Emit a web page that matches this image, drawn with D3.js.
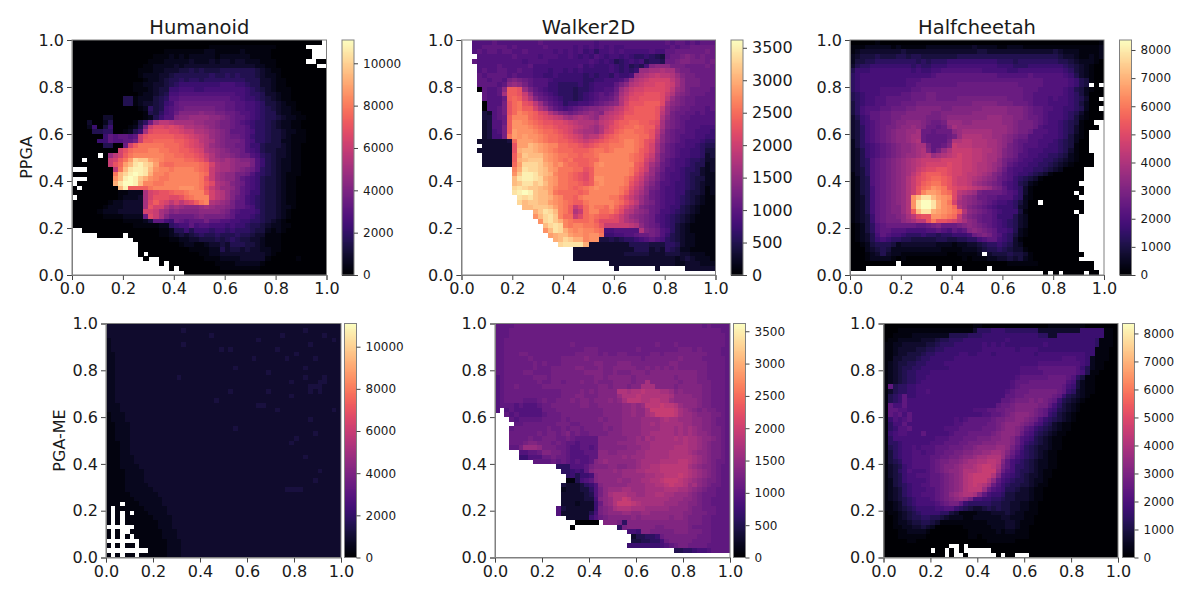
<!DOCTYPE html>
<html>
<head>
<meta charset="utf-8">
<script src="https://cdn.jsdelivr.net/npm/d3@7"></script>
<style>
  html, body { margin: 0; background: #fff; }
  text { font-family: "DejaVu Sans", sans-serif; fill: #1a1a1a; }
</style>
</head>
<body>
<svg id="chart" width="1200" height="600"></svg>
<script>
// Cells, top row first, 50 x 50.
// One base-36 character per cell: 0..z is 0..35/35 of the colour bar, "." is an empty cell.
const humanoidPpga = [
"0000000000 0000000000 0000000000 0000000000 000000000.",
"0000000000 0000000000 0000000111 1111111111 000000....",
"0000000000 0000000011 1111112211 1112111110 0000000...",
"0000000000 0000001112 1212222212 2222211110 0000000...",
"0000000000 0000011122 2223222323 3233222111 000000..00",
"0000000000 0000112222 3233333333 3333332211 00000000..",
"0000000000 0001112233 3445454445 5555554321 1000000000",
"0000000000 0001222334 5555555655 6565554322 1000000000",
"0000000000 0000122345 5656656666 6666555332 1100000000",
"0000000000 0011223345 6777777778 8877655332 1100000000",
"0000000000 0011123447 7888778888 8888765432 1110000000",
"0000000000 0001223458 8999999999 9988766533 2110000000",
"0000000000 5512224569 9aaaaaaaaa a998776543 2110000000",
"0000000000 5512334578 abbbbbbbbb aa99887644 3211000000",
"0000000000 0001264589 abccccccbb aa99887654 3221000000",
"0000000000 0000154689 bddddeddcc bba9987655 3221100000",
"0000003300 0000125799 deeffffeed cbaa987655 4322110000",
"0003002500 00146bgiih ggggffeedc cba9876654 3221100000",
"0002704700 0125cjllkl kjhhggfedc cbaa976654 3221100000",
"0000556600 1257glmmml lkjjhhgfed caaa986654 4322110000",
"0000007a9a a9ajmnnnnn mmlkjihfed cbba976654 4321110000",
"0000077a99 aacjnnoooo nnmlkihged cccb986654 4221110000",
"0000005500 bknpppppoo onmlkjhfed ccbb977544 4321100000",
"000000000k mopppqqppo onnmlkhgfe dccb987544 3321100000",
"00000.0fik npqqqqqqpp oonnmljhfe edcbb98654 3321100000",
"00.0000jkn pswvvsrqpp ppoonmkhgf gfeddc9754 3221100000",
"0000000jmo suxywvspoo ppppponkhg gfeeec9754 3221100000",
"...00000ip uxyyxurqqp qqqqponjhg gfedcb9654 3221100000",
"00000000pu wyzyxtqqpq qqqqqpojgf eeccb97654 3211100000",
"...00000ru yzyvtrqppq qqqqqpmjgf eeca987544 3211000000",
".0000000tx zzyuqqppqq qqqqqpnlhg fdcb987544 3211000000",
"0.0000000u ynnnnpqqqq qrrrqpmjhf feca987544 3211000000",
"0000000001 1222gklmmn oopqqqnkih fdca977544 3211000000",
".000000001 2223gkmmml lmopqqqkih fdba876544 3211000000",
"0000000122 3333glnlki kiklnpqhgf ecaa876544 3211000000",
"0000001222 3333gmkkhf gfeeefgfee dcaa986544 3221000000",
"0000012223 3333kkjgfd eddddeeeed ca98887544 3210000000",
"0000001111 2222bljgdb bbbbcdcccc ba88876544 3210000000",
"0000000000 111124aa87 ba9aaacaa9 9887766543 2100000000",
"0000000000 0011111226 788a899888 7877655432 2110000000",
"..00000000 0000000112 5575777677 6766654421 2100000000",
".....00000 .000000112 3434565565 5565543311 1000000000",
".......... ..00000001 1223344454 5654433211 1000000000",
".......... ...0000000 0122112334 3555443211 1000000000",
".......... ...0000000 0001111225 3443433221 1000000000",
".......... ...0.00000 0000011223 3333333321 0000000000",
".......... ....0..000 0000001112 2223333310 0000100000",
".......... .......0.0 0000000011 1122222100 0000000000",
".......... .........0 .000000001 1111111000 0000000000",
".......... .......... ..00000000 0000000000 0000000000"
];

const walkerPpga = [
"..9999a999 99999a9999 9999998999 9999999999 a9aa9a9aaa",
"..99aaaaa9 a99999a999 9989898989 8899999999 9a9aabbbbb",
"..9a9aa9aa 99a9999989 8989786889 8988888988 aabbbbbbcb",
"...9999999 a999989998 8987879878 8787667654 abbcdcbcbb",
"..a9999999 9989999888 8888898787 5678785665 bbcddcccbc",
"...9999a99 999a888888 8889787778 7675658dee ecccbbbbcb",
"...9a99aa9 9a99888788 7878777778 76767ffggh ggdccbbbbb",
"...a9aaaa9 a999887787 7777676776 8778fghiji ihfdccbbbb",
"...aa9aa9c dcba999877 7777667788 89bfhijkkk kigecccbbb",
"...aaaa9ae feca999776 6667678888 acehijkkll kjgecccbbb",
"...0a99aen nmfca98776 6656678899 bfhjkkllll kifecbbbba",
"....a99agn nmjfba9876 6656789a9a cgikllmmml jhedcbbbaa",
"....a999bn onkhdba987 6656789aab dhjllmmmml ifdcbbaaaa",
"....0999cm opmlifca98 677889abcd ehkmmmnnnl gedcbbaaaa",
"....099acm opnnkhfca9 89abcddefg ijlmnnnnmj fdcbbaaa9a",
"....439acm oqponlkhfd cbcdefedhi jkmmnnnnmi fcbbaa9a99",
"....449abn qqqonmlkji gfghgfehij klnnnnnnmh ecbaa99999",
"....3499bn rrqponmmll kjihhhgijk mnnoonnmlg dcba999999",
"....3499cn rrrqponnml lkjihgfhjl mnooponnkg dcba999888",
"....3489cn srrrqpoonm lkihggfhkl noppoonmjf cbaa998887",
"....3488cp srsrrqpoon mlkjhiikmn oppppoomie cba9998877",
"...3333334 osssrqpoon nmlkjklmno opqqpomlhe cba9888766",
"....333333 mssutsrqqo onnmlmnoop ppqqpomkgd ba99887655",
"...3333333 mtuutsrqpo oonnnoppop qqqqpnmkgd ba98877644",
"....333333 nsvuuusrqp poonoopqqq qqqponljfc ba98877634",
"....333333 ntuvvvsrqp opnnnooqqq qqqponkifc a988766533",
"....333333 oswwwvtsqr poonnoqrqq qqqqnmjgeb a988765523",
".......... qtxwwvusrp ppoomnqqqq qqqpnljfdb 9987665323",
".......... rvyyxvutqp ponmlnqqqq qqqpmkhfca 9887655322",
".......... uxyyxwtsrp ponmlnrrqq qqpnljgeca 9887654422",
".......... uvxxvwusrp poonmnqrqq qqpmkifdb9 9877654322",
".......... wxwvvutsqp ponopqrqqq qpoljhecb9 8877654312",
".......... xyzyvuuspo ooonoqqqqq qpnkigeba9 8877544312",
".......... .xwxvuutrq oonpqqqqqp pnljhfdba9 8876543211",
".......... .wuvvuusrq ponnpqqqqq pomkifdca9 8876543211",
".......... ..uuvvvusq pnjloqppoq omkigdcba9 8775432111",
".......... ....tvxwuq pnhjoqqoop nlihfedba8 8765432111",
".......... ....ruwxvq oojloponnm ljhfedcb98 7654321111",
".......... .....rwxvt qpooopnlll ljhgfdcb98 7654321111",
".......... ......uwxw qpqqppomjj jjjihecba8 7643211111",
".......... ......ruxw trqrqqpo88 99999hdcb9 8643211111",
".......... .......stu usrrqrrp77 8899abbcb9 7543221111",
".......... ........tu wvttqrr445 4566789a98 6543221111",
".......... .........w xxxxt33333 3335555444 6653221111",
".......... .......... ..33333333 3333555343 6542211111",
".......... .......... ..33333333 3344444333 4443322211",
".......... .......... ..33333333 3333333333 3323432221",
".......... .......... .........3 3333333333 3322333222",
".......... .......... .......... 3.......3. ....333333",
".......... .......... .......... .......... .........."
];

const cheetahPpga = [
"0000010000 0000000000 0000000000 0000000000 0000000001",
"1112222212 1111122222 2222322221 1222111111 1111111112",
"1233333333 4333333333 3333344333 3333333333 4322211112",
"2344454445 5455444444 4555555555 5555555555 5433211212",
"2445566666 6665656667 7777777776 6656666666 6554322210",
"3566777777 7767667778 8888888887 7766677777 7765432100",
"5777888888 8878778899 9999998888 8778888888 8876432100",
"6788888888 8888889aaa aaaaaaaaa9 99999a9999 9987532100",
"6788888888 8999aaaaaa aaaaaaaaaa aaaaaaaa99 9998754100",
"6788888888 899aaaaaaa abbbbbbbbb bbbaaaaa99 9998754.0.",
"6788889999 99aabbbbbb bbbbbbbbbb bbbbaaa999 9987542100",
"5678889999 aabbbccbbb bbbbbbbbbb bbbbaa9999 9987642000",
"5678899aaa aabbbccbbb bccccccccc cbbbaa9998 988765300.",
"4678899aaa bbbccccccc ccccdddddc ccbbba9998 8887642000",
"468999aabb bccdddddcc ddddddeeee edddcbaa99 887765200.",
"4689aabbcc cdddddccdd ddddeeeeee edddcbaa98 8876531000",
"3578aabbcc dddddcccde eeeeeeefff eeddcbba98 8876421000",
"34789abbcd deeedcbbcf ffeeffffff eedcccba98 87654100..",
"34689abccd eefedbbabe gfffffffff fedcccb988 876531000.",
"34689abcde effgbbabbb efggggggff fedccb9998 8765310...",
"34689abcde efggbaaaab cfhhhhggff edcbb99988 8764210...",
"24689abcde efghbaaaac hhiihhhggf edbaa99888 7654200...",
"246789abcd eefggcaabd jiiihhhggf ecba999887 7654100...",
"235789abcd eefghdacfh jjjjiihhgf dcba988877 7653100...",
"235789abcd effghifghi jkjjiihggf dcb9988776 65421000..",
"23569abcde fghijjjjkk kkjjiihgge cba9887766 54321000..",
"23569abcde fghijkkkkl kkjjihhgfe ca98877665 43210000..",
"23469abcde fghjkllmml kkjjihhgfd b988776654 320000....",
"13469abcde fgikmnnnml kkjiihgfdc a987765431 000000....",
"12459abcde fhjlmnoonm kjjihgfedb a976543100 000000....",
"12459abcde fhjlnoppnm kjjigfedcb 9875421000 00000.....",
"12458abcde fhjmoprqpm lkkjihgfdc a876310000 000000....",
"12458abcde fhjmqssrpo lihgfcbbbb a986310000 0000.0....",
"12358abcde fhruxxusrq lhfedbbaa9 9976210000 00000.....",
"12358abcde fhrxzzxtrp kgfedcba98 8764200.00 000000....",
"12358abcdd fhrxzzxtrq ohfdcba987 7763200000 000000....",
"12358abcdd fhnuxxtsrq pnhedcba98 7774100000 0000.0....",
"12347abccd egilmmrrqp ojfdcbaa97 7753200000 00000.....",
"12347abccc efgiimpmml kigedbaa98 7653200000 00000.....",
"012469abbb bbbaabcdbb bcdedcba98 7653200000 00000.....",
"012469aa99 9888899a98 a9adedcba8 8752100000 00000.....",
"012358a988 7666766566 7778bcdca9 7642100000 00000.....",
"0123578766 5544444554 4556689aa8 7631000000 00000.....",
"0012455542 3333333222 1223345667 6532000000 00000.....",
"0002345422 2222222211 1122234556 5433100000 00000.....",
"0001235322 1111111110 011112.344 4544310000 000000....",
"0001222210 1000000000 0010111223 3434210000 00000.....",
"000000000. 0000000000 0000000000 0111111000 00000000..",
"000....... .......0.. 0.00000.00 0000000000 00000000..",
".......... .......... .......... ........0. 0.0000.00."
];

const humanoidMe = [
"3333333333 3333333333 3333333333 3333333333 3333333333",
"3333333333 3333334333 3333333333 3333333333 3343333333",
"3333333333 3333333333 3343333333 3333333433 3333334333",
"2333333333 3333333333 3333333333 3343333333 3333333343",
"2333333333 3333334333 3333333333 3333333333 3334333333",
"2333333333 3333333333 3333434333 3333334333 3333333333",
"2233333333 3333333333 3333333333 3333333333 4333333333",
"2233333333 3333333333 3333333333 3433333343 3333433333",
"2233333333 3333333333 3333333333 3333333333 3333333333",
"2233333333 3333333333 3333333433 3333333333 3343333333",
"2233333333 3333333333 3333333333 3333433333 3333333333",
"2233333333 3333343333 3333333333 3333333333 3343334333",
"2233333333 3333333333 3333333333 3333333334 3333344333",
"2233333333 3333333333 3333333333 3333333333 3334443333",
"2233333333 3333333333 3333334333 3333433333 3334343333",
"2233333333 3333333333 3333333333 3333333334 3333333333",
"2233333333 3333333333 3334333333 3333333333 3333333333",
"2223333333 3333333333 3333333333 3344333333 3333333333",
"2223333333 3333333333 3333333333 3333334333 3333333343",
"1222333333 3333333333 3333333333 3333333333 3333333333",
"1222333333 3333333333 3333333333 3333333333 3334333333",
"1122233333 3333333333 3333333333 3333333333 3333333333",
"1122233333 3333333333 3333333433 3333333333 3333333333",
"1122233333 3333333333 3333333333 3333333333 3333433333",
"1122233333 3333333333 3333333333 3333333333 4333333333",
"1112233333 3333333333 3333333333 3333333334 3333333333",
"1112233333 3333333333 3333333333 3333333333 3333333333",
"1112233333 3333333333 3333333333 3333333333 3333333333",
"1112223333 3333333333 3333333333 3333333333 3343333333",
"1112223333 3333333333 3333333333 3333333333 3333333333",
"1112222333 3333333333 3333333333 3333333333 3333333333",
"1111222233 3333333333 3333333333 3333333333 3333343333",
"1111222233 3333333333 3333333333 3333333333 3333333333",
"1111222233 3333333333 3333333333 3333333333 3333433333",
"1111222223 3333333333 3333333333 3333333333 3333333333",
"1111222222 3333333333 3333333333 3333333344 4433333333",
"1111122222 2333333333 3333333333 3333333333 3333333333",
"1111112222 2233333333 3333333333 3333333333 3333333333",
"111.111222 2233333333 3333333333 3333333333 3333333333",
"1.11111122 2223333333 3333333333 3333333333 3333333333",
"1.1.1.1112 2223333333 3333333333 3333333333 3333333333",
"1.1.111111 2222333333 3333333333 3333333333 3333333333",
"1.1.111111 1222333333 3333333333 3333333333 3333333333",
"......1111 1222333333 3333333333 3333333333 3333333333",
"1.1..11111 1122233333 3333333333 3333333333 3333333333",
"1.1.1.1111 1122233333 3333333333 3333333333 3333333333",
".......111 1112223333 3333333333 3333333333 3333333333",
"1.1.11.111 1112223333 3333333333 3333333333 3333333333",
".........1 1112223333 3333333333 3333333333 3333333333",
"1.1.11.111 1112223333 3333333333 3333333333 3333333333"
];

const walkerMe = [
"aaaabbbbbb bbbbbbbbbb bbbbbbbbbb bbbbbbbbbb bbbbabaaaa",
"aaabbbbbbb bbbbbbbbbb bbbbbbbbbb bbbbbbbbbb bbbbbbbbaa",
"aaabbbbbbb bbbbbbbbbb bbbbbbbbbb bbbbbbbbbb bbbbbbbbba",
"aabbbbbbbb bbbbbbbbbb bbbbbbbbbb bbbbbbbbbb bbbbbbbbba",
"aabbbbbbbb bbbbbbcbbb bbbbbbbbbb bbbbcbbbcb bbbbbbbbba",
"aabbbbbbbb bbbbbbbbbc ccbbbbbbbb cbbbbbbbbc ccbcbbbbaa",
"aabbbccbbb bbbbbbbccc ccbcbbccbb bbbccbcccc cccccbbbaa",
"aabbbbbcbb bbbbcccccd cccccccccc cbcccccccd ccccbbbbba",
"aabbbbbbcb cbbbcccccc cddcccdddc cccccccddc cccccbbbba",
"aabbbbbbcb bbcccccddc ccdccddddd ccdcdcdcdc cccccbbbba",
"aabbbbccbb bbcccccccd dddccdcccd ddcddddddd dddccbbbba",
"9abbbbbbcc cbcccccccc cddcdddddc ddddddddcd dddccbbbba",
"9abbbbbbbc bbccbcccdc cdcccddddc ddgddddddc dddcccbbba",
"9abbcbbbbb cccccccccc ccddcdddcd dgggddddcd ddddccbbba",
"9abbbbbbbb bbbbccccdc dcddddhhgh hihhhggfde ddddccbbba",
"9abbbbbbbb bbbbcccddc ccddddfhhh ihhhhhhgee eeddccbbba",
"9abbbbaaab cbbcccdcdd cdddedegii ihhiihhfee eeedccbbba",
"9aaa9a999a bbccccccdd ccdddddeef efiiijiihf eeedccbbba",
"9.9a999999 bbbccccccc cccddddeef eegjjjjjig fedcdccbba",
"..a9a99999 abbbcccccc cccddddeef eeghjjjjig ffedddccba",
"...a9aaaaa bbbbcbcccc ccdcdddeee effffghggf ffeeddcbba",
"....aabbbb bbbcccbbcc cccddddeee effgfggggg ffeeddcbba",
"...abbbbbb bcbbcbccbc cccdcddeee effffgggfg fgfeddccba",
"...bbbbbbc bccbcdbcbb ccccdddeee effgggggfg fgfeedccba",
"...bbbbcbb cccbbcbaaa aaddddddee fegfgggghg hggfeedcba",
"...bbbcddc ccbcbaa9aa aaddddeeee fffggggggg hggfedccba",
"...aacfffe cccbba99aa 9addddddee effggggghh hggfedccba",
".....99aab ddccba999a aaeeddeeee ffggggghhh hgfeedccba",
".....77999 bbcbba9999 aaeeeeefef ffggggghhh hhgfedccba",
"........aa aababa9a99 adefeeeeee fgggghhhhi ihgfedcbba",
".......... ...666999a cdddeeddee fgghhiiiii igfeddcbaa",
".......... ....66787a deeeefefff gghhhiiiii ihgfedcbaa",
".......... .....67577 8deeeeefff ffgghhiiij ihgfedcbaa",
".......... .....11589 adeeeefeef fgghhijjji hgfedccbaa",
".......... ....433346 79deeeeeff ffgghhijii hfgedcbbaa",
".......... ....233344 69cefffggf ffgggghhhg gfedcbbaaa",
".......... ....333334 59ceghhhgg ffgghhggff fedcbbbaaa",
".......... ....333334 48defhhjig gggggggfff eedcbbaaaa",
".......... ....333233 37befhjjji hgggggfffe eddcbbaaaa",
".......... ...9433333 37cdeghhhg ggfffffeee edccbbbaaa",
".......... ...9333333 58cdeeeffe effeeeeeee ddcccbbaaa",
".......... .....33333 79bcddddde deeeeeedee dcccbbaaaa",
".......... .......000 00.dddc6dd dddddddddd dcccbbaaaa",
".......... ......0... ......6cdd ddddccdddd dcbbbbaaaa",
".......... .......... ........88 7ddcccccdd dcccbbaaaa",
".......... .......... .........3 55667bcccc cccbbbaaaa",
".......... .......... .........4 455668bccc ccbbbbaaaa",
".......... .......... ........77 7777789abc cbbbbaaaaa",
".......... .......... .......... ........55 667889aaaa",
".......... .......... .......... .......... .........."
];

const cheetahMe = [
"0000000000 0000000001 1000000000 0000011111 1110000000",
"0001111111 1111111113 6667776666 6663333333 3377777110",
"0011112222 2222555566 6777777777 7776633777 7777777110",
"0112222233 3455666777 7777778777 7777777777 7777761110",
"1122333334 4566677777 7878787777 7777877777 7777761110",
"1123333445 5667777777 7888888878 8887777777 7777711100",
"1123344456 6777778877 8887888888 8878888888 8887711100",
"1133444566 7777788888 8888888888 8888888899 9887211100",
"1234455667 7778888888 8888888888 8889999999 9987211000",
"1234556677 7777888888 8888888889 999aaaaaaa a975211000",
"1234566777 8888888888 8888888889 9999aaaaaa a985110000",
"1234566778 8888888888 888888889a aaaaabbbba 9641100000",
"1234566788 8888888888 88888889aa abbbbbbbb9 8421100000",
"1a56677888 8888888888 88888889ab bbbbbbbba8 7421100000",
"1356677889 8888888888 8888889abb bccccccba7 6321100000",
"1567a77888 8888888888 888888aabb ccccccba75 4321000000",
"1567a88888 8888888888 88888aabcc cdcdcba754 3210000000",
"1a88a88888 8888888888 8888abbcdd dddcca8643 2100000000",
"1aa9988888 8888888889 99aabbccdd ddcba87543 2100000000",
"1a9a8a8888 8888888888 899aabcdee edcba76432 1000000000",
"17989a8888 88888989aa aaabccddee dcb9765432 1000000000",
"1688a88888 8888899aaa aabbcdeeed cb98653211 0000000000",
"16799a8888 888999aaaa abbbcdeedc a976543211 0000000000",
"17899888a8 88889aaabb bbbcdeeedb 9865432110 0000000000",
"1688888888 8999aaabbb cccddeedb9 8754321100 0000000000",
"1667888888 999aaabbcc cdddeeedb9 7654321100 0000000000",
"1567889899 9aaabbbccd eeeeffeca8 6543321100 0000000000",
"1467889989 9aabbccdde effggfdb97 6543211000 0000000000",
"1467889999 aabbccdeef gghhhfca87 6543211000 0000000000",
"1456889999 abccddefgg hhiihda876 5432211000 0000000000",
"1345789999 abcddefggh ijjigca866 5432211000 0000000000",
"1346798889 abcdeefhhh ijjjfb9865 5432110000 0000000000",
"1345788999 aabcdefhij jjjhd98765 4332110000 0000000000",
"1245788889 aabcdefhij jjhea87655 4322100000 0000000000",
"1245678899 aabcdefhij ihfb976554 4321100000 0000000000",
"1234678889 9abcdefhii ifb9875543 3211000000 0000000000",
"1234678899 9abcefghhg da87764433 3211000000 0000000000",
"1234567888 9abcdefec8 8776654433 3211000000 0000000000",
"1123567888 89abcca766 6665544332 2110000000 0000000000",
"1123456777 7889976543 3454544332 2110000000 0000000000",
"0112345677 7766431111 2223334322 1110000000 0000000000",
"0012345566 5543222112 2222233222 1100000000 0000000000",
"0012234455 4311111111 1122223321 1100000000 0000000000",
"0011223343 2000000111 1112223321 1000000000 0000000000",
"0001122221 0000000011 1111212211 1000000000 0000000000",
"0001111110 0000000011 0111111111 1000000000 0000000000",
"0000011000 0000000000 0011111100 0000000000 0000000000",
"0000000000 0000..0.00 0000000000 0000000000 0000000000",
"0000000000 .00.0.0... ...0000000 0000000000 0000000000",
"0000000000 000.0..0.. ....0.00.. .000000000 0000000000"
];

const envTitles = ["Humanoid", "Walker2D", "Halfcheetah"];
const rowLabels = ["PPGA", "PGA-ME"];
const envMax = [11100, 3620, 8355];
const axisTicks = [0, 0.2, 0.4, 0.6, 0.8, 1];
const barTicks = [
  [0, 2000, 4000, 6000, 8000, 10000],
  [0, 500, 1000, 1500, 2000, 2500, 3000, 3500],
  [0, 1000, 2000, 3000, 4000, 5000, 6000, 7000, 8000]
];

const GRID = 50;
const SPINE = "#808080";

const panels = [
  { rows: humanoidPpga, env: 0, title: envTitles[0], ylabel: rowLabels[0], x0: 72, x1: 326.5, y0: 40, y1: 275, bar: 342, barSize: 12 },
  { rows: walkerPpga, env: 1, title: envTitles[1], x0: 461.5, x1: 715.5, y0: 40, y1: 275, bar: 731, barSize: 16 },
  { rows: cheetahPpga, env: 2, title: envTitles[2], x0: 850, x1: 1104, y0: 40, y1: 275, bar: 1119.5, barSize: 12 },
  { rows: humanoidMe, env: 0, ylabel: rowLabels[1], x0: 106, x1: 341, y0: 323.5, y1: 557.5, bar: 344.5, barSize: 12 },
  { rows: walkerMe, env: 1, x0: 495, x1: 730, y0: 323.5, y1: 557.5, bar: 733.5, barSize: 12 },
  { rows: cheetahMe, env: 2, x0: 883.5, x1: 1118, y0: 323.5, y1: 557.5, bar: 1122.5, barSize: 12 }
];

const svg = d3.select("#chart");

function decode(rows, vmax) {
  return rows.map(r => Array.from(r.replace(/ /g, "")).map(c => c === "." ? null : parseInt(c, 36) / 35 * vmax));
}

function drawPanel(p) {
  const vmax = envMax[p.env];
  const values = decode(p.rows, vmax);
  const x = d3.scaleLinear().domain([0, 1]).range([p.x0, p.x1]);
  const y = d3.scaleLinear().domain([0, 1]).range([p.y1, p.y0]);
  const color = d3.scaleSequential(d3.interpolateMagma).domain([0, vmax]);

  const g = svg.append("g");

  // heatmap cells
  values.forEach((row, r) => {
    g.append("g").attr("shape-rendering", "crispEdges").selectAll("rect")
      .data(row.map((v, c) => ({ v, c })).filter(d => d.v !== null))
      .join("rect")
      .attr("x", d => x(d.c / GRID))
      .attr("y", y(1 - r / GRID))
      .attr("width", d => x((d.c + 1) / GRID) - x(d.c / GRID) + 0.3)
      .attr("height", y(1 - (r + 1) / GRID) - y(1 - r / GRID) + 0.3)
      .attr("fill", d => color(d.v));
  });

  const xAxis = d3.axisBottom(x).tickValues(axisTicks).tickFormat(d3.format(".1f")).tickSize(5).tickPadding(3);
  const yAxis = d3.axisLeft(y).tickValues(axisTicks).tickFormat(d3.format(".1f")).tickSize(5).tickPadding(3);

  const gx = g.append("g").attr("transform", `translate(0,${p.y1})`).call(xAxis);
  const gy = g.append("g").attr("transform", `translate(${p.x0},0)`).call(yAxis);
  [gx, gy].forEach(a => {
    a.selectAll("text").style("font-size", "16px").style("font-family", "DejaVu Sans");
    a.selectAll("line").attr("stroke", "#444");
    a.select(".domain").attr("stroke", SPINE);
  });

  g.append("rect")
    .attr("x", p.x0).attr("y", p.y0)
    .attr("width", p.x1 - p.x0).attr("height", p.y1 - p.y0)
    .attr("fill", "none").attr("stroke", SPINE);

  if (p.title) {
    g.append("text")
      .attr("x", (p.x0 + p.x1) / 2).attr("y", p.y0 - 6)
      .attr("text-anchor", "middle").style("font-size", "19.5px")
      .text(p.title);
  }
  if (p.ylabel) {
    g.append("text")
      .attr("transform", `translate(${p.ylabel === "PPGA" ? 32 : 65},${(p.y0 + p.y1) / 2}) rotate(-90)`)
      .attr("text-anchor", "middle").style("font-size", "16px")
      .text(p.ylabel);
  }

  // colour bar
  const barW = 12;
  const by = d3.scaleLinear().domain([0, vmax]).range([p.y1, p.y0]);
  const steps = d3.range(0, 256);
  const bar = g.append("g");
  bar.append("g").attr("shape-rendering", "crispEdges").selectAll("rect")
    .data(steps)
    .join("rect")
    .attr("x", p.bar)
    .attr("y", d => by((d + 1) / 256 * vmax))
    .attr("width", barW)
    .attr("height", d => by(d / 256 * vmax) - by((d + 1) / 256 * vmax) + 0.5)
    .attr("fill", d => color((d + 0.5) / 256 * vmax));
  bar.append("rect")
    .attr("x", p.bar).attr("y", p.y0)
    .attr("width", barW).attr("height", p.y1 - p.y0)
    .attr("fill", "none").attr("stroke", SPINE);
  const gb = bar.append("g").attr("transform", `translate(${p.bar + barW},0)`)
    .call(d3.axisRight(by).tickValues(barTicks[p.env]).tickFormat(d3.format("d")).tickSize(4).tickPadding(5));
  gb.select(".domain").remove();
  gb.selectAll("line").attr("stroke", "#444");
  gb.selectAll("text").style("font-size", p.barSize + "px").style("font-family", "DejaVu Sans");
}

panels.forEach(drawPanel);
</script>
</body>
</html>
